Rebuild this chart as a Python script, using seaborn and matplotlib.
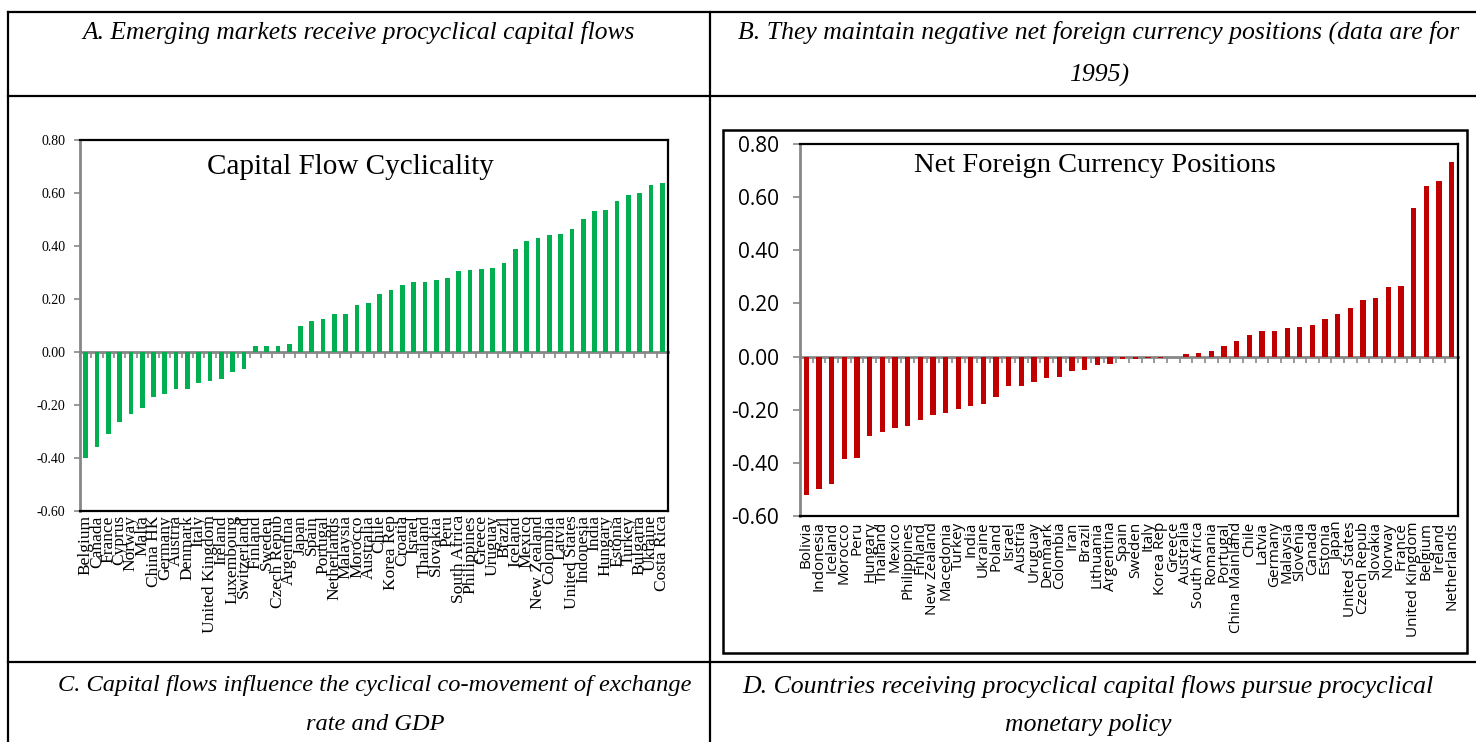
import numpy as np
import pandas as pd
import matplotlib
matplotlib.use("Agg")
import matplotlib.pyplot as plt
import seaborn as sns
from matplotlib.lines import Line2D
from matplotlib.patches import Rectangle
from matplotlib.ticker import FormatStrFormatter

# ---------------- data ----------------
cf_countries = ["Belgium", "Canada", "France", "Cyprus", "Norway", "Malta", "China HK",
                "Germany", "Austria", "Denmark", "Italy", "United Kingdom", "Ireland",
                "Luxembourg", "Switzerland", "Finland", "Sweden", "Czech Repub", "Argentina",
                "Japan", "Spain", "Portugal", "Netherlands", "Malaysia", "Morocco", "Australia",
                "Chile", "Korea Rep", "Croatia", "Israel", "Thailand", "Slovakia", "Peru",
                "South Africa", "Philippines", "Greece", "Uruguay", "Brazil", "Iceland",
                "Mexico", "New Zealand", "Colombia", "Latvia", "United States", "Indonesia",
                "India", "Hungary", "Estonia", "Turkey", "Bulgaria", "Ukraine", "Costa Rica"]
cf_values = [-0.40, -0.36, -0.31, -0.264, -0.234, -0.21, -0.168, -0.158, -0.14, -0.138,
             -0.117, -0.11, -0.102, -0.077, -0.066, 0.024, 0.024, 0.024, 0.029, 0.098,
             0.116, 0.126, 0.142, 0.145, 0.179, 0.186, 0.218, 0.235, 0.252, 0.264, 0.265,
             0.27, 0.278, 0.307, 0.308, 0.315, 0.316, 0.336, 0.388, 0.42, 0.432, 0.443,
             0.447, 0.466, 0.502, 0.531, 0.537, 0.569, 0.591, 0.60, 0.632, 0.637]

nfc_countries = ["Bolivia", "Indonesia", "Iceland", "Morocco", "Peru", "Hungary", "Thailand",
                 "Mexico", "Philippines", "Finland", "New Zealand", "Macedonia", "Turkey",
                 "India", "Ukraine", "Poland", "Israel", "Austria", "Uruguay", "Denmark",
                 "Colombia", "Iran", "Brazil", "Lithuania", "Argentina", "Spain", "Sweden",
                 "Italy", "Korea Rep", "Greece", "Australia", "South Africa", "Romania",
                 "Portugal", "China Mainland", "Chile", "Latvia", "Germany", "Malaysia",
                 "Slovenia", "Canada", "Estonia", "Japan", "United States", "Czech Repub",
                 "Slovakia", "Norway", "France", "United Kingdom", "Belgium", "Ireland",
                 "Netherlands"]
nfc_values = [-0.521, -0.50, -0.478, -0.387, -0.38, -0.30, -0.283, -0.267, -0.26, -0.239,
              -0.22, -0.214, -0.196, -0.185, -0.179, -0.151, -0.112, -0.109, -0.096, -0.082,
              -0.078, -0.053, -0.049, -0.03, -0.029, -0.01, -0.008, -0.007, -0.005, -0.002,
              0.01, 0.012, 0.021, 0.04, 0.059, 0.082, 0.096, 0.097, 0.107, 0.112, 0.118,
              0.141, 0.16, 0.181, 0.214, 0.221, 0.263, 0.264, 0.561, 0.643, 0.662, 0.732]

y_ticks = [-0.6, -0.4, -0.2, 0.0, 0.2, 0.4, 0.6, 0.8]

heading_a = ["A. Emerging markets receive procyclical capital flows"]
heading_b = ["B. They maintain negative net foreign currency positions (data are for", "1995)"]
heading_c = ["C. Capital flows influence the cyclical co-movement of exchange", "rate and GDP"]
heading_d = ["D. Countries receiving procyclical capital flows pursue procyclical", "monetary policy"]
title_left = "Capital Flow Cyclicality"
title_right = "Net Foreign Currency Positions"

# ---------------- figure ----------------
W, H = 1476, 742
fig = plt.figure(figsize=(W / 100, H / 100), dpi=100)
fig.patch.set_facecolor("white")

def fx(px):
    return px / W

def fy(py):
    return 1 - py / H

GREY = "#878787"
SERIF = ["Liberation Serif", "DejaVu Serif"]
SANS = ["Open Sans", "DejaVu Sans"]

# table lines
def hline(y, x0, x1, lw=1.6):
    fig.add_artist(Line2D([fx(x0), fx(x1)], [fy(y), fy(y)], color="black", lw=lw,
                          transform=fig.transFigure))

def vline(x, y0, y1, lw=1.6):
    fig.add_artist(Line2D([fx(x), fx(x)], [fy(y0), fy(y1)], color="black", lw=lw,
                          transform=fig.transFigure))

hline(12, 8, W)
hline(96, 8, W)
hline(662, 8, W)
vline(8, 12, H)
vline(710, 12, H)

# headings
def heading(lines, cx, ys, size):
    for line, y in zip(lines, ys):
        fig.text(fx(cx), fy(y), line, ha="center", va="center", fontsize=size,
                 style="italic", family=SERIF)

heading(heading_a, 359, [32], 18.4)
heading(heading_b, 1099, [32, 75], 18.5)
heading(heading_c, 375, [686, 725], 17.6)
heading(heading_d, 1088, [686, 725], 18.5)

# right chart outer border
fig.add_artist(Rectangle((fx(723), fy(653)), fx(1467) - fx(723), fy(130) - fy(653),
                         fill=False, edgecolor="black", lw=1.8, transform=fig.transFigure))


def make_chart(rect, cats, vals, color, tick_font, tick_size, tick_len, ypad,
               xfont, xsize, xpad):
    ax = fig.add_axes(rect)
    df = pd.DataFrame({"country": cats, "value": vals})
    sns.barplot(data=df, x="country", y="value", order=cats, color=color,
                width=0.42, saturation=1, ax=ax, errorbar=None)
    ax.set_ylim(-0.6, 0.8)
    ax.set_yticks(y_ticks)
    ax.yaxis.set_major_formatter(FormatStrFormatter("%.2f"))
    ax.set_xlabel("")
    ax.set_ylabel("")
    for s in ["top", "right", "bottom"]:
        ax.spines[s].set_color("black")
        ax.spines[s].set_linewidth(1.6)
    ax.spines["left"].set_color(GREY)
    ax.spines["left"].set_linewidth(2.0)
    ax.tick_params(axis="y", direction="out", length=tick_len, width=1.2, color=GREY,
                   labelsize=tick_size, pad=ypad)
    for lab in ax.get_yticklabels():
        lab.set_family(tick_font)
    ax.tick_params(axis="x", length=0, pad=xpad, labelsize=xsize)
    ax.set_xticks(range(len(cats)))
    ax.set_xticklabels(cats, rotation=90, family=xfont, fontsize=xsize)
    # zero axis with category-boundary ticks
    zero_frac = (0 - (-0.6)) / 1.4
    sec = ax.secondary_xaxis(zero_frac)
    sec.set_xticks(np.arange(len(cats) + 1) - 0.5)
    sec.tick_params(axis="x", direction="out", length=4, width=1.2, color=GREY,
                    labelbottom=False, labeltop=False)
    for s in sec.spines.values():
        s.set_color(GREY)
        s.set_linewidth(2.0)
    return ax

# left chart
axl = make_chart([fx(80), fy(511), fx(668) - fx(80), fy(140) - fy(511)],
                 cf_countries, cf_values, "#00B050", SERIF, 10, 4.5, 6, SERIF, 12.5, 3)
fig.text(fx(350), fy(167), title_left, ha="center", va="center", fontsize=21, family=SERIF)

# right chart
axr = make_chart([fx(800), fy(516), fx(1458) - fx(800), fy(144) - fy(516)],
                 nfc_countries, nfc_values, "#C00000", SANS, 15, 5, 10, SANS, 11, 4)
fig.text(fx(1095), fy(165), title_right, ha="center", va="center", fontsize=20.5, family=SERIF)

fig.savefig("out.png", dpi=100, facecolor="white")
